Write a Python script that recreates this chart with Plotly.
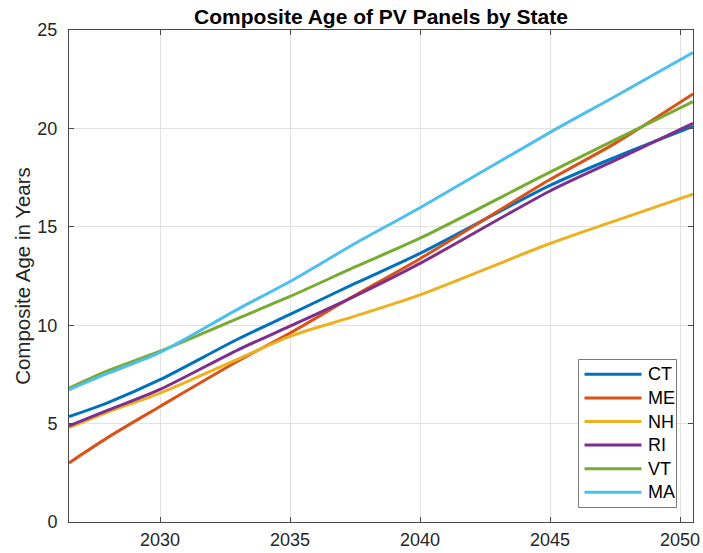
import plotly.graph_objects as go

# Sample years along the projection horizon
years = [2026.5, 2028, 2030, 2033, 2035, 2037.5, 2040, 2045, 2047.5, 2050.5]

# Composite age (years) of installed PV panels per state
ct = [5.36, 6.07, 7.23, 9.30, 10.55, 12.12, 13.65, 17.10, 18.53, 20.10]
me = [3.00, 4.30, 5.87, 8.18, 9.60, 11.52, 13.38, 17.40, 19.24, 21.75]
nh = [4.80, 5.59, 6.55, 8.28, 9.43, 10.46, 11.54, 14.15, 15.30, 16.66]
ri = [4.89, 5.68, 6.74, 8.75, 9.95, 11.48, 13.14, 16.82, 18.37, 20.26]
vt = [6.80, 7.69, 8.68, 10.35, 11.46, 12.96, 14.42, 17.78, 19.42, 21.36]
ma = [6.72, 7.56, 8.62, 10.82, 12.22, 14.15, 15.97, 19.80, 21.62, 23.85]

states = ["CT", "ME", "NH", "RI", "VT", "MA"]
series = [ct, me, nh, ri, vt, ma]
colors = ["#0072BD", "#D95319", "#EDB120", "#7E2F8E", "#77AC30", "#4DBEEE"]

x_ticks = [2030, 2035, 2040, 2045, 2050]
y_ticks = [0, 5, 10, 15, 20, 25]

FONT = "Liberation Sans, Arial, Helvetica, sans-serif"
AXIS_COLOR = "#4a4a4a"
TEXT_COLOR = "#262626"

W, H = 703, 553
M_L, M_R, M_T, M_B = 69, 10, 30, 31
PW, PH = W - M_L - M_R, H - M_T - M_B


def px_x(px):
    """Pixel column -> paper x fraction."""
    return (px - M_L) / PW


def px_y(py):
    """Pixel row -> paper y fraction."""
    return (H - M_B - py) / PH


fig = go.Figure()
for name, vals, col in zip(states, series, colors):
    fig.add_trace(go.Scatter(
        x=years, y=vals, name=name, mode="lines", showlegend=False,
        line=dict(color=col, width=3, shape="spline", smoothing=0.8),
    ))

axis_common = dict(
    showline=True, linecolor=AXIS_COLOR, linewidth=1, mirror="allticks",
    ticks="inside", ticklen=5, tickcolor=AXIS_COLOR, tickwidth=1,
    showgrid=True, gridcolor="#e2e2e2", gridwidth=1, zeroline=False,
    tickfont=dict(family=FONT, size=18, color=TEXT_COLOR),
    automargin=False,
)

fig.update_xaxes(range=[years[0], years[-1]], tickvals=x_ticks,
                 ticklabelstandoff=1, **axis_common)
fig.update_yaxes(range=[0, 25], tickvals=y_ticks, ticklabelstandoff=7,
                 title=dict(text="Composite Age in Years", standoff=1,
                            font=dict(family=FONT, size=20.5, color=TEXT_COLOR)),
                 **axis_common)

# Boxed legend in the lower-right corner of the axes
shapes = [dict(type="rect", xref="paper", yref="paper",
               x0=px_x(578.5), x1=px_x(676.5), y0=px_y(507.5), y1=px_y(359.5),
               line=dict(color="#7a7a7a", width=1), fillcolor="white", layer="above")]
annotations = []
row0, row_step = 374.3, 23.6
for i, (name, col) in enumerate(zip(states, colors)):
    yy = px_y(row0 + i * row_step)
    shapes.append(dict(type="line", xref="paper", yref="paper",
                       x0=px_x(584.5), x1=px_x(641.5), y0=yy, y1=yy,
                       line=dict(color=col, width=3), layer="above"))
    annotations.append(dict(text=name, xref="paper", yref="paper",
                            x=px_x(645.5), y=yy, xanchor="left", yanchor="middle",
                            showarrow=False,
                            font=dict(family=FONT, size=18, color="black")))

fig.update_layout(
    width=W, height=H,
    margin=dict(l=M_L, r=M_R, t=M_T, b=M_B),
    paper_bgcolor="white", plot_bgcolor="white",
    title=dict(text="<b>Composite Age of PV Panels by State</b>",
               x=(381) / W, xanchor="center",
               y=1 - 17 / H, yanchor="middle",
               font=dict(family=FONT, size=21, color="black")),
    shapes=shapes,
    annotations=annotations,
    showlegend=False,
)

fig.write_html("out.html")
